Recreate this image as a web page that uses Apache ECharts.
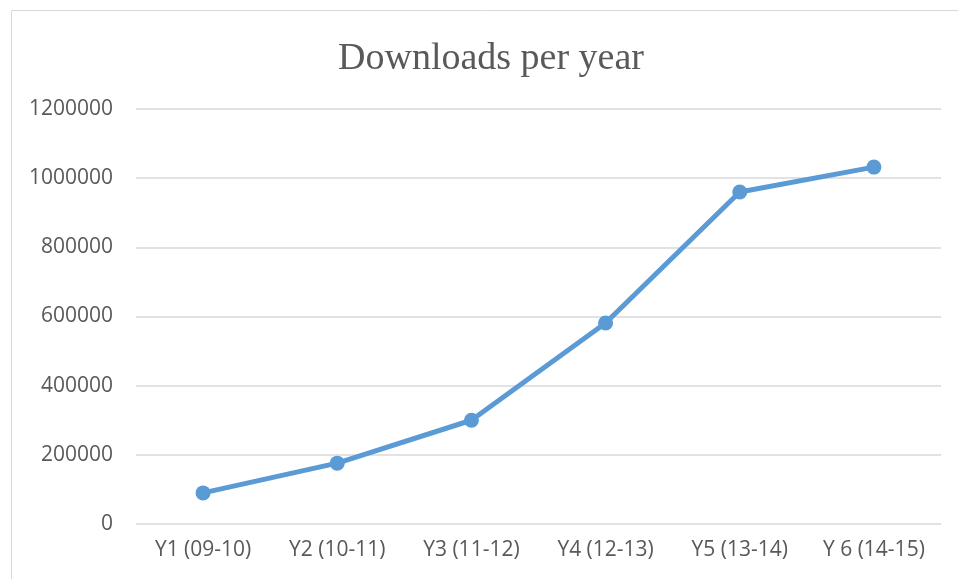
<!DOCTYPE html>
<html>
<head>
<meta charset="utf-8">
<script src="https://cdn.jsdelivr.net/npm/echarts@6/dist/echarts.min.js"></script>
<style>
html, body { margin: 0; padding: 0; background: #fff; }
#main { width: 958px; height: 579px; }
</style>
</head>
<body>
<div id="main"></div>
<script>
var years = ['Y1 (09-10)', 'Y2 (10-11)', 'Y3 (11-12)', 'Y4 (12-13)', 'Y5 (13-14)', 'Y 6 (14-15)'];
var downloads = [90000, 176000, 300000, 581000, 960000, 1032000];

var myChart = echarts.init(document.getElementById('main'));
var options = {
    backgroundColor: '#fff',
    // outer chart border
    graphic: [{
        type: 'rect',
        shape: { x: 11.5, y: 10.5, width: 960, height: 600 },
        style: { fill: 'none', stroke: '#d9d9d9', lineWidth: 1 },
        silent: true
    }],
    title: {
        text: 'Downloads per year',
        left: 486,
        top: 35,
        textAlign: 'center',
        textStyle: {
            fontFamily: 'Liberation Serif',
            fontWeight: 'normal',
            fontSize: 38,
            color: '#595959'
        }
    },
    grid: { left: 136, right: 17, top: 109, bottom: 55 },
    xAxis: {
        type: 'category',
        data: years,
        boundaryGap: true,
        axisLine: { show: false },
        axisTick: { show: false },
        axisLabel: {
            margin: 16,
            fontFamily: 'Open Sans',
            fontSize: 21,
            color: '#595959'
        }
    },
    yAxis: {
        type: 'value',
        min: 0,
        max: 1200000,
        interval: 200000,
        axisLine: { show: false },
        axisTick: { show: false },
        axisLabel: {
            margin: 23,
            fontFamily: 'Open Sans',
            fontSize: 21,
            color: '#595959',
            formatter: function (v) { return String(v); }
        },
        splitLine: { lineStyle: { color: '#d9d9d9', width: 1.5 } }
    },
    series: [{
        type: 'line',
        data: downloads,
        symbol: 'circle',
        symbolSize: 15,
        lineStyle: { color: '#5b9bd5', width: 5 },
        itemStyle: { color: '#5b9bd5' },
        animation: false
    }]
};
myChart.setOption(options);
</script>
</body>
</html>
